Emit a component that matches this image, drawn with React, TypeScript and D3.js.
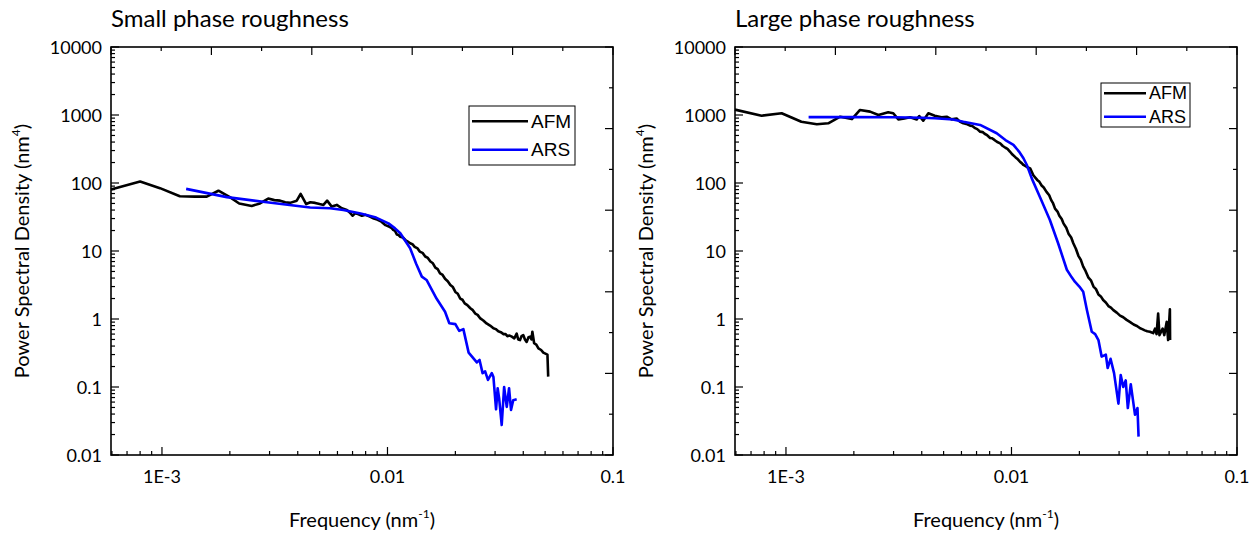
import React from 'react';
import * as d3 from 'd3';

const W = 1258;
const H = 535;
const X_MIN = Math.pow(10, -3.226);
const X_MAX = 0.1;
const Y_MIN = 0.01;
const Y_MAX = 10000;

const yTickValues = [0.01, 0.1, 1, 10, 100, 1000, 10000];
const yTickLabels = ['0.01', '0.1', '1', '10', '100', '1000', '10000'];
const xTickValues = [0.001, 0.01, 0.1];
const xTickLabels = ['1E-3', '0.01', '0.1'];

const seriesNames = ['AFM', 'ARS'];
const seriesColors = ['#000000', '#0000ff'];
const panelTitles = ['Small phase roughness', 'Large phase roughness'];

// Small phase roughness – AFM [frequency nm^-1, PSD nm^4]
const afmSmall: number[][] = [
  [5.94e-4, 80], [8.0e-4, 105], [9.8e-4, 84], [1.2e-3, 64], [1.4e-3, 63], [1.58e-3, 63],
  [1.78e-3, 77], [2.0e-3, 62], [2.2e-3, 50], [2.5e-3, 46], [2.72e-3, 50], [2.96e-3, 59],
  [3.15e-3, 56], [3.34e-3, 55], [3.52e-3, 52], [3.7e-3, 51], [3.96e-3, 55], [4.12e-3, 69],
  [4.36e-3, 49], [4.55e-3, 52], [4.78e-3, 51], [5.0e-3, 49], [5.2e-3, 47.6], [5.4e-3, 55],
  [5.66e-3, 45], [5.96e-3, 47.6], [6.27e-3, 42.5], [6.6e-3, 40], [6.8e-3, 37], [7.0e-3, 33],
  [7.2e-3, 36], [7.4e-3, 35], [7.7e-3, 33], [8.0e-3, 34], [8.35e-3, 32], [8.7e-3, 30],
  [9.0e-3, 29], [9.4e-3, 27], [9.8e-3, 24], [1.02e-2, 22.7], [1.04e-2, 22], [1.06e-2, 20.5],
  [1.08e-2, 19.8], [1.1e-2, 17.5], [1.12e-2, 17.2], [1.14e-2, 16.2], [1.17e-2, 15.8], [1.2e-2, 14.5],
  [1.23e-2, 13.8], [1.26e-2, 13], [1.29e-2, 12.6], [1.32e-2, 11.5], [1.36e-2, 10.9], [1.39e-2, 9.8],
  [1.43e-2, 9.4], [1.47e-2, 8.3], [1.51e-2, 7.9], [1.55e-2, 7], [1.59e-2, 6.6], [1.63e-2, 5.7],
  [1.67e-2, 5.4], [1.71e-2, 4.7], [1.75e-2, 4.5], [1.8e-2, 3.9], [1.85e-2, 3.6], [1.9e-2, 3.16],
  [1.95e-2, 2.95], [2.0e-2, 2.5], [2.05e-2, 2.35], [2.1e-2, 2.0], [2.15e-2, 1.92], [2.2e-2, 1.7],
  [2.26e-2, 1.6], [2.33e-2, 1.44], [2.39e-2, 1.35], [2.45e-2, 1.2], [2.51e-2, 1.15], [2.58e-2, 1.02],
  [2.66e-2, 0.95], [2.75e-2, 0.86], [2.85e-2, 0.8], [2.95e-2, 0.73], [3.02e-2, 0.71], [3.1e-2, 0.66],
  [3.18e-2, 0.64], [3.27e-2, 0.6], [3.34e-2, 0.6], [3.4e-2, 0.56], [3.48e-2, 0.57], [3.56e-2, 0.55],
  [3.65e-2, 0.52], [3.74e-2, 0.61], [3.8e-2, 0.5], [3.87e-2, 0.49], [3.93e-2, 0.56], [4.0e-2, 0.58],
  [4.07e-2, 0.5], [4.14e-2, 0.46], [4.22e-2, 0.54], [4.29e-2, 0.55], [4.35e-2, 0.5], [4.39e-2, 0.65],
  [4.47e-2, 0.44], [4.57e-2, 0.42], [4.67e-2, 0.37], [4.8e-2, 0.35], [4.91e-2, 0.32], [5.12e-2, 0.30],
  [5.16e-2, 0.142],
];

// Small phase roughness – ARS
const arsSmall: number[][] = [
  [1.28e-3, 82], [1.94e-3, 62], [2.92e-3, 52], [4.54e-3, 43.7], [5.56e-3, 42.5], [6.37e-3, 40],
  [7.6e-3, 35.5], [8.9e-3, 31], [1.01e-2, 25.5], [1.08e-2, 21.5], [1.14e-2, 18.2], [1.26e-2, 11],
  [1.34e-2, 6.5], [1.42e-2, 4.2], [1.49e-2, 3.75], [1.65e-2, 2.0], [1.8e-2, 1.28], [1.88e-2, 0.865],
  [2.0e-2, 0.84], [2.08e-2, 0.67], [2.17e-2, 0.71], [2.29e-2, 0.32], [2.49e-2, 0.23], [2.56e-2, 0.25],
  [2.64e-2, 0.16], [2.71e-2, 0.17], [2.79e-2, 0.127], [2.9e-2, 0.16], [2.95e-2, 0.14], [3.03e-2, 0.047],
  [3.08e-2, 0.096], [3.13e-2, 0.066], [3.21e-2, 0.0276], [3.29e-2, 0.1], [3.38e-2, 0.051], [3.46e-2, 0.096],
  [3.53e-2, 0.046], [3.61e-2, 0.064], [3.74e-2, 0.066],
];

// Large phase roughness – AFM
const afmLarge: number[][] = [
  [5.94e-4, 1200], [7.8e-4, 977], [9.57e-4, 1060], [1.17e-3, 796], [1.37e-3, 730], [1.54e-3, 755],
  [1.74e-3, 944], [1.96e-3, 871], [2.13e-3, 1186], [2.36e-3, 1120], [2.57e-3, 1000], [2.84e-3, 1096],
  [2.99e-3, 1060], [3.15e-3, 862], [3.35e-3, 890], [3.55e-3, 924], [3.8e-3, 862], [3.9e-3, 966],
  [4.06e-3, 824], [4.28e-3, 1060], [4.57e-3, 977], [4.9e-3, 924], [5.16e-3, 944], [5.43e-3, 862],
  [5.71e-3, 890], [5.9e-3, 800], [6.12e-3, 755], [6.3e-3, 740], [6.55e-3, 697], [6.7e-3, 690],
  [6.9e-3, 640], [7.05e-3, 620], [7.26e-3, 569], [7.45e-3, 560], [7.6e-3, 530], [7.8e-3, 505],
  [8.04e-3, 460], [8.2e-3, 455], [8.4e-3, 430], [8.65e-3, 400], [8.91e-3, 383], [9.15e-3, 350],
  [9.4e-3, 330], [9.6e-3, 318], [9.86e-3, 288], [1.01e-2, 262], [1.04e-2, 240], [1.06e-2, 228],
  [1.09e-2, 206], [1.11e-2, 196], [1.13e-2, 184], [1.17e-2, 172], [1.21e-2, 164], [1.25e-2, 130],
  [1.3e-2, 111], [1.33e-2, 104], [1.36e-2, 92], [1.39e-2, 86], [1.43e-2, 74], [1.47e-2, 66],
  [1.5e-2, 56], [1.53e-2, 50], [1.56e-2, 42], [1.6e-2, 38], [1.63e-2, 33], [1.67e-2, 29.5],
  [1.7e-2, 25.5], [1.75e-2, 22], [1.79e-2, 18], [1.84e-2, 15.8], [1.88e-2, 13], [1.93e-2, 10.8],
  [1.98e-2, 8.5], [2.03e-2, 7.4], [2.08e-2, 5.9], [2.13e-2, 5.1], [2.19e-2, 4.1], [2.25e-2, 3.7],
  [2.31e-2, 3.0], [2.37e-2, 2.75], [2.43e-2, 2.3], [2.49e-2, 2.15], [2.55e-2, 1.9], [2.62e-2, 1.75],
  [2.69e-2, 1.55], [2.76e-2, 1.47], [2.83e-2, 1.35], [2.93e-2, 1.24], [3.03e-2, 1.12], [3.13e-2, 1.06],
  [3.24e-2, 0.97], [3.36e-2, 0.9], [3.48e-2, 0.83], [3.6e-2, 0.79], [3.72e-2, 0.73], [3.8e-2, 0.71],
  [3.9e-2, 0.68], [4.0e-2, 0.66], [4.11e-2, 0.65], [4.25e-2, 0.62], [4.33e-2, 0.72], [4.4e-2, 0.6],
  [4.47e-2, 1.2], [4.53e-2, 0.58], [4.68e-2, 0.72], [4.76e-2, 0.58], [4.88e-2, 0.91], [4.95e-2, 0.49],
  [5.04e-2, 1.39], [5.05e-2, 0.49],
];

// Large phase roughness – ARS
const arsLarge: number[][] = [
  [1.26e-3, 930], [2.0e-3, 930], [3.0e-3, 925], [4.0e-3, 912], [4.57e-3, 894], [5.5e-3, 860],
  [6.12e-3, 796], [7.26e-3, 714], [8.6e-3, 539], [9.4e-3, 428], [1.02e-2, 364], [1.08e-2, 290],
  [1.13e-2, 231], [1.17e-2, 184], [1.23e-2, 117], [1.34e-2, 61], [1.48e-2, 28.6], [1.61e-2, 13],
  [1.76e-2, 5.3], [1.85e-2, 4.1], [1.91e-2, 3.54], [2.0e-2, 3.0], [2.08e-2, 2.52], [2.16e-2, 1.36],
  [2.27e-2, 0.65], [2.35e-2, 0.6], [2.43e-2, 0.49], [2.51e-2, 0.28], [2.62e-2, 0.3], [2.67e-2, 0.19],
  [2.75e-2, 0.26], [2.85e-2, 0.16], [2.98e-2, 0.057], [3.05e-2, 0.15], [3.13e-2, 0.1], [3.21e-2, 0.125],
  [3.28e-2, 0.049], [3.38e-2, 0.11], [3.53e-2, 0.039], [3.62e-2, 0.049], [3.66e-2, 0.0186],
];

const FONT = 'Lato, "Open Sans", sans-serif';
const LEG_FONT = '"Liberation Sans", Arial, sans-serif';

type LegendCfg = { x: number; y: number; w: number; h: number; lineLen: number; row: number; fs: number };

function Panel({ ox, title, afm, ars, legend }: { ox: number; title: string; afm: number[][]; ars: number[][]; legend: LegendCfg }) {
  const x0 = 111 + ox;
  const x1 = 613 + ox;
  const yTop = 47;
  const yBot = 455;
  const x = d3.scaleLog().domain([X_MIN, X_MAX]).range([x0, x1]);
  const y = d3.scaleLog().domain([Y_MIN, Y_MAX]).range([yBot, yTop]);
  const line = d3.line<number[]>().x((d) => x(d[0])).y((d) => y(d[1]));
  const isPow10 = (v: number) => Math.abs(Math.log10(v) - Math.round(Math.log10(v))) < 1e-6;
  const yTicksAll = y.ticks();
  const xTicksAll = x.ticks().filter((v) => v >= X_MIN * 0.999 && v <= X_MAX * 1.001);
  const evenX = d3.scaleLinear().domain([0, 10]).range([x0, x1]);
  const evenY = d3.scaleLinear().domain([0, 10]).range([yTop, yBot]);
  const idx = d3.range(11);
  const midX = (x0 + x1) / 2;
  const midY = (yTop + yBot) / 2;
  const series = [afm, ars];
  return (
    <g>
      <text x={x0} y={27} fontFamily={FONT} fontSize={24} fill="#000">{title}</text>
      {series.map((s, i) => (
        <path key={i} d={line(s) || ''} fill="none" stroke={seriesColors[i]} strokeWidth={2.6} strokeLinejoin="round" />
      ))}
      {yTicksAll.map((v, i) => (
        <line key={'yl' + i} x1={x0} x2={x0 + (isPow10(v) ? 8 : 4)} y1={y(v)} y2={y(v)} stroke="#000" strokeWidth={1.2} />
      ))}
      {xTicksAll.map((v, i) => (
        <line key={'xb' + i} x1={x(v)} x2={x(v)} y1={yBot} y2={yBot - (isPow10(v) ? 8 : 4)} stroke="#000" strokeWidth={1.2} />
      ))}
      {idx.map((i) => (
        <line key={'xt' + i} x1={evenX(i)} x2={evenX(i)} y1={yTop} y2={yTop + (i % 2 === 0 ? 8 : 4)} stroke="#000" strokeWidth={1.2} />
      ))}
      {idx.map((i) => (
        <line key={'yr' + i} x1={x1} x2={x1 - (i % 2 === 0 ? 8 : 4)} y1={evenY(i)} y2={evenY(i)} stroke="#000" strokeWidth={1.2} />
      ))}
      <rect x={x0} y={yTop} width={x1 - x0} height={yBot - yTop} fill="none" stroke="#000" strokeWidth={1.6} />
      {yTickValues.map((v, i) => (
        <text key={'ytl' + i} x={x0 - 9} y={y(v) + 6.5} textAnchor="end" fontFamily={FONT} fontSize={18} fill="#000">{yTickLabels[i]}</text>
      ))}
      {xTickValues.map((v, i) => (
        <text key={'xtl' + i} x={x(v)} y={483} textAnchor="middle" fontFamily={FONT} fontSize={18} fill="#000">{xTickLabels[i]}</text>
      ))}
      <text x={midX} y={527} textAnchor="middle" fontFamily={FONT} fontSize={20} fill="#000">
        Frequency (nm<tspan fontSize={12} dy={-9}>-1</tspan><tspan dy={9}>)</tspan>
      </text>
      <text transform={`translate(${ox + 29},${midY}) rotate(-90)`} textAnchor="middle" fontFamily={FONT} fontSize={20} fill="#000">
        Power Spectral Density (nm<tspan fontSize={12} dy={-9}>4</tspan><tspan dy={9}>)</tspan>
      </text>
      <g>
        <rect x={legend.x} y={legend.y} width={legend.w} height={legend.h} fill="#fff" stroke="#000" strokeWidth={1} />
        {seriesNames.map((n, i) => {
          const ly = legend.y + legend.h / 2 + (i - 0.5) * legend.row;
          return (
            <g key={n}>
              <line x1={legend.x + 3} x2={legend.x + 3 + legend.lineLen} y1={ly} y2={ly} stroke={seriesColors[i]} strokeWidth={2.6} />
              <text x={legend.x + 6 + legend.lineLen} y={ly} dominantBaseline="central" fontFamily={LEG_FONT} fontSize={legend.fs} fill="#000">{n}</text>
            </g>
          );
        })}
      </g>
    </g>
  );
}

export default function App() {
  return (
    <svg width={W} height={H} style={{ position: 'absolute', left: 0, top: 0, background: '#fff' }}>
      <rect x={0} y={0} width={W} height={H} fill="#fff" />
      <Panel ox={0} title={panelTitles[0]} afm={afmSmall} ars={arsSmall}
        legend={{ x: 469, y: 106, w: 106, h: 59, lineLen: 56, row: 28.4, fs: 19 }} />
      <Panel ox={624} title={panelTitles[1]} afm={afmLarge} ars={arsLarge}
        legend={{ x: 1101, y: 83, w: 89, h: 44, lineLen: 42, row: 23.4, fs: 18 }} />
    </svg>
  );
}
